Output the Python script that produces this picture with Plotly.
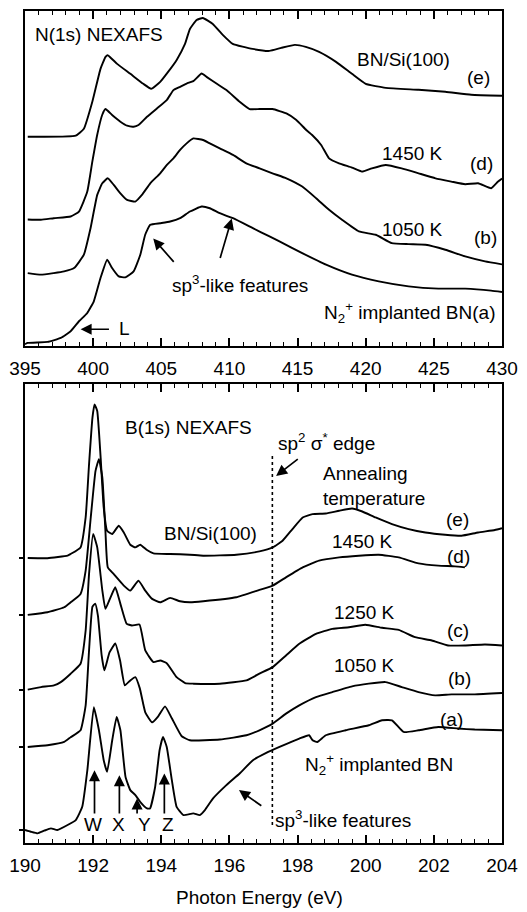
import plotly.graph_objects as go

# ---------------- N(1s) NEXAFS (upper panel) ----------------
# photon energy (eV) and stacked intensity (arb. units, offset included)
n_e_energy = [395.2, 398.72, 399.32, 399.94, 400.54, 400.91, 401.07, 401.76, 402.73, 403.68,
              404.26, 404.92, 405.5, 406.13, 406.74, 407.1, 407.59, 408.05, 408.78, 409.51,
              410.24, 411.7, 412.94, 413.8, 414.8, 415.6, 416.58, 417.82, 418.99, 420.0,
              421.47, 423.88, 425.84, 427.74, 430.0]
n_e_int = [21.0, 21.1, 21.8, 24.5, 27.8, 29.0, 29.17, 28.3, 27.3, 26.3,
           25.8, 26.5, 27.5, 28.7, 30.3, 31.8, 32.7, 32.9, 32.3, 31.2,
           30.3, 29.8, 29.6, 29.9, 30.2, 30.0, 29.5, 28.5, 27.3, 26.3,
           25.9, 25.7, 25.5, 25.2, 25.1]

n_d_energy = [395.2, 396.17, 397.11, 398.35, 398.96, 399.57, 399.94, 400.3, 400.67, 400.91,
              401.39, 402.0, 402.49, 402.97, 403.33, 403.95, 404.68, 405.4, 405.89, 406.38,
              406.86, 407.35, 407.96, 408.32, 409.05, 409.78, 410.75, 411.48, 412.21, 413.16,
              414.18, 414.91, 415.64, 416.07, 416.73, 417.31, 418.04, 418.99, 419.72, 420.45,
              421.47, 422.64, 423.88, 425.12, 426.28, 427.3, 428.25, 429.2, 429.71, 430.0]
n_d_int = [12.7, 12.67, 12.83, 13.0, 13.5, 15.5, 18.5, 21.2, 23.2, 23.77,
           23.17, 22.5, 22.1, 22.0, 22.17, 23.0, 23.83, 24.67, 25.67, 26.0,
           26.33, 26.57, 27.33, 27.0, 26.33, 25.67, 24.5, 23.77, 23.77, 23.77,
           23.33, 22.67, 21.67, 21.17, 20.17, 18.83, 18.33, 17.9, 17.5, 17.83,
           18.17, 17.83, 17.33, 16.83, 16.5, 16.23, 16.33, 15.83, 16.5, 16.8]

n_b_energy = [395.2, 396.17, 397.11, 397.87, 398.6, 399.32, 399.81, 400.3, 400.67, 401.07,
              401.51, 402.0, 402.49, 403.09, 403.58, 404.19, 404.92, 405.41, 405.89, 406.38,
              406.86, 407.35, 408.07, 408.56, 409.29, 410.26, 411.24, 412.21, 413.16, 414.18,
              415.34, 416.36, 417.31, 418.26, 419.5, 420.74, 421.91, 423.15, 424.39, 425.84,
              427.3, 428.76, 430.0]
n_b_int = [7.33, 7.17, 7.33, 7.5, 7.83, 9.17, 11.83, 15.17, 16.33, 16.83,
           16.17, 15.33, 14.67, 14.5, 15.17, 16.33, 17.33, 18.17, 18.83, 19.67,
           20.33, 20.83, 20.67, 20.33, 19.83, 19.17, 18.33, 17.83, 17.33, 16.83,
           16.0, 14.83, 13.67, 12.67, 11.5, 11.17, 10.33, 10.23, 10.17, 9.67,
           9.0, 8.5, 8.2]

n_a_energy = [395.0, 395.2, 396.66, 397.63, 398.35, 398.96, 399.57, 400.05, 400.54, 401.03,
              401.39, 401.88, 402.36, 402.97, 403.46, 403.82, 404.19, 404.92, 405.65, 406.38,
              407.1, 407.96, 408.56, 409.29, 410.26, 411.72, 412.94, 413.67, 415.34, 417.09,
              418.99, 420.96, 423.15, 425.33, 427.3, 429.2, 430.0]
n_a_int = [0.2, 0.33, 0.43, 0.83, 1.5, 2.5, 3.33, 4.5, 6.83, 8.67,
           7.83, 7.0, 6.9, 7.5, 9.17, 11.17, 12.17, 12.33, 12.5, 12.83,
           13.5, 14.0, 13.83, 13.33, 12.83, 11.83, 11.0, 10.5, 9.33, 8.17,
           7.17, 6.5, 6.0, 5.77, 5.77, 5.57, 5.43]

# ---------------- B(1s) NEXAFS (lower panel) ----------------
b_e_energy = [190.08, 190.66, 191.25, 191.34, 191.63, 191.78, 191.88, 191.98, 192.04, 192.12,
              192.22, 192.31, 192.41, 192.56, 192.75, 192.9, 193.09, 193.24, 193.38, 193.58,
              193.77, 194.26, 194.84, 195.23, 196.2, 196.88, 197.27, 197.56, 197.85, 198.15,
              198.44, 198.83, 199.22, 199.6, 199.9, 200.29, 200.77, 201.26, 201.75, 202.33,
              202.81, 203.3, 203.79, 204.0]
b_e_int = [28.57, 28.55, 28.8, 28.97, 29.63, 32.63, 37.97, 42.63, 43.97, 43.3,
           38.63, 33.63, 31.3, 30.97, 31.8, 31.13, 29.9, 29.63, 29.9, 29.37,
           29.03, 28.97, 28.9, 28.8, 28.9, 29.23, 29.63, 30.3, 31.47, 32.63,
           32.97, 33.03, 33.3, 33.53, 33.23, 32.63, 31.97, 31.47, 31.13, 30.9,
           30.8, 31.13, 31.37, 31.55]

b_d_energy = [190.08, 190.66, 191.15, 191.34, 191.63, 191.78, 191.93, 192.07, 192.17, 192.27,
              192.36, 192.43, 192.6, 192.9, 193.09, 193.33, 193.53, 193.73, 193.97, 194.26,
              194.55, 194.84, 195.23, 196.2, 196.88, 197.27, 197.66, 198.15, 198.63, 199.22,
              199.8, 200.38, 200.97, 201.55, 202.13, 202.62, 202.91]
b_d_int = [22.87, 23.13, 23.63, 24.13, 24.97, 27.3, 32.63, 37.3, 38.47, 36.63,
           31.3, 27.63, 26.97, 25.8, 25.3, 26.3, 25.3, 24.47, 24.13, 24.57,
           24.23, 24.13, 24.23, 24.63, 25.37, 25.8, 26.63, 27.63, 28.3, 28.63,
           28.8, 28.9, 28.63, 28.03, 27.8, 27.73, 27.63]

b_c_energy = [190.08, 190.47, 190.85, 191.05, 191.34, 191.63, 191.78, 191.88, 192.0, 192.12,
              192.27, 192.36, 192.51, 192.65, 192.8, 192.98, 193.14, 193.36, 193.53, 193.77,
              193.97, 194.16, 194.45, 194.7, 194.94, 195.72, 196.5, 196.88, 197.27, 197.66,
              198.05, 198.54, 199.02, 199.51, 199.99, 200.48, 200.97, 201.45, 201.94, 202.42,
              202.91, 203.5, 204.0]
b_c_int = [15.37, 15.63, 15.8, 16.13, 16.97, 17.97, 21.3, 26.97, 30.97, 29.63,
           25.3, 23.47, 24.63, 25.63, 23.97, 22.0, 21.8, 21.9, 19.3, 18.13,
           18.3, 18.03, 16.63, 16.03, 15.97, 15.97, 16.3, 16.97, 17.63, 18.8,
           19.97, 20.97, 21.47, 21.63, 21.87, 21.57, 21.37, 20.63, 20.3, 19.8,
           19.8, 19.9, 19.8]

b_b_energy = [190.08, 190.66, 191.15, 191.34, 191.63, 191.78, 191.88, 191.98, 192.06, 192.14,
              192.25, 192.33, 192.48, 192.65, 192.79, 192.93, 193.09, 193.24, 193.37, 193.53,
              193.73, 193.91, 194.11, 194.31, 194.6, 194.84, 195.72, 196.5, 196.88, 197.27,
              197.66, 198.05, 198.54, 199.02, 199.6, 200.09, 200.58, 201.06, 201.55, 202.04,
              202.52, 203.2, 204.0]
b_b_int = [9.63, 9.8, 10.13, 10.6, 11.3, 13.8, 19.3, 23.7, 24.0, 22.8,
           18.8, 17.3, 19.1, 20.0, 18.3, 15.8, 16.3, 16.63, 15.5, 13.1,
           12.1, 12.7, 13.7, 12.5, 10.7, 10.3, 10.37, 10.8, 11.3, 11.97,
           12.97, 13.8, 14.63, 15.13, 15.7, 15.97, 16.13, 15.63, 15.13, 14.8,
           14.9, 14.9, 15.03]

b_a_energy = [190.0, 190.17, 190.37, 190.56, 190.76, 190.95, 191.25, 191.49, 191.68, 191.83,
              192.02, 192.17, 192.31, 192.41, 192.56, 192.69, 192.8, 192.95, 193.09, 193.24,
              193.38, 193.58, 193.67, 193.82, 193.95, 194.05, 194.16, 194.31, 194.45, 194.65,
              194.94, 195.13, 195.28, 195.52, 195.91, 196.3, 196.69, 197.08, 197.47, 198.05,
              198.34, 198.44, 198.58, 198.83, 199.41, 200.09, 200.48, 200.77, 201.11, 201.55,
              202.13, 202.72, 203.2, 204.0]
b_a_int = [1.3, 1.13, 0.97, 1.23, 1.47, 1.3, 1.8, 2.3, 3.63, 7.3,
           13.6, 11.3, 8.3, 7.13, 10.3, 12.63, 11.3, 6.63, 5.3, 4.8,
           4.13, 3.47, 3.47, 5.63, 9.3, 10.63, 9.63, 6.3, 3.63, 2.8,
           2.97, 2.8, 3.3, 4.47, 5.8, 6.97, 8.3, 9.03, 9.63, 10.47,
           10.8, 10.3, 10.13, 10.8, 11.3, 11.8, 12.3, 12.3, 11.13, 11.3,
           11.63, 11.47, 11.37, 11.3]

# stacking baselines marked on the left axis of the B(1s) panel
b_baselines = [1.3, 9.63, 15.37, 22.87, 28.57]
# energy of the sp2 sigma* edge marker
sigma_edge = 197.26

FONT = "Liberation Sans, Arial, Helvetica, sans-serif"
TXT = 19

fig = go.Figure()


def add_curve(x, y, xa, ya):
    fig.add_trace(go.Scatter(
        x=x, y=y, mode="lines", xaxis=xa, yaxis=ya,
        line=dict(color="black", width=1.9, shape="spline", smoothing=0.4),
        showlegend=False, hoverinfo="skip"))


for xs, ys in [(n_e_energy, n_e_int), (n_d_energy, n_d_int),
               (n_b_energy, n_b_int), (n_a_energy, n_a_int)]:
    add_curve(xs, ys, "x2", "y2")

for xs, ys in [(b_e_energy, b_e_int), (b_d_energy, b_d_int), (b_c_energy, b_c_int),
               (b_b_energy, b_b_int), (b_a_energy, b_a_int)]:
    add_curve(xs, ys, "x", "y")

# dotted sp2 sigma* edge line
fig.add_trace(go.Scatter(
    x=[sigma_edge, sigma_edge], y=[38.8, 1.8], mode="lines", xaxis="x", yaxis="y",
    line=dict(color="black", width=1.6, dash="dot"), showlegend=False, hoverinfo="skip"))

annotations = []


def label(text, x, y, panel, xanchor="center", align="center"):
    xr, yr = ("x2", "y2") if panel == "top" else ("x", "y")
    annotations.append(dict(text=text, x=x, y=y, xref=xr, yref=yr, showarrow=False,
                            xanchor=xanchor, yanchor="middle", align=align,
                            font=dict(family=FONT, size=TXT, color="black")))


def arrow(x_head, y_head, x_tail, y_tail, panel):
    xr, yr = ("x2", "y2") if panel == "top" else ("x", "y")
    annotations.append(dict(text="", x=x_head, y=y_head, ax=x_tail, ay=y_tail,
                            xref=xr, yref=yr, axref=xr, ayref=yr, showarrow=True,
                            arrowhead=2, arrowsize=1.3, arrowwidth=1.7,
                            arrowcolor="black", standoff=0, startstandoff=0))


# upper panel text
label("N(1s) NEXAFS", 395.58, 31.2, "top", xanchor="left")
label("BN/Si(100)", 422.78, 28.7, "top")
label("(e)", 428.3, 26.9, "top")
label("1450 K", 423.4, 19.3, "top")
label("(d)", 428.5, 18.3, "top")
label("1050 K", 423.4, 11.7, "top")
label("(b)", 428.8, 10.9, "top")
label("sp<sup>3</sup>-like features", 410.75, 6.2, "top")
label("N<sub>2</sub><sup>+</sup> implanted BN(a)", 429.6, 3.4, "top", xanchor="right")
label("L", 402.3, 1.8, "top")
arrow(404.41, 10.8, 406.01, 8.3, "top")
arrow(410.17, 12.8, 409.29, 8.7, "top")
arrow(399.08, 1.7, 401.27, 1.7, "top")

# lower panel text
label("B(1s) NEXAFS", 192.89, 41.6, "bottom", xanchor="left")
label("sp<sup>2</sup> σ<sup>*</sup> edge", 197.38, 40.2, "bottom", xanchor="left")
label("Annealing<br>temperature", 198.69, 35.75, "bottom", xanchor="left", align="left")
label("(e)", 202.7, 32.4, "bottom")
label("BN/Si(100)", 195.44, 31.05, "bottom")
label("1450 K", 199.92, 30.25, "bottom")
label("(d)", 202.72, 28.75, "bottom")
label("1250 K", 199.95, 23.15, "bottom")
label("(c)", 202.7, 21.3, "bottom")
label("1050 K", 199.95, 17.8, "bottom")
label("(b)", 202.75, 16.5, "bottom")
label("(a)", 202.53, 12.35, "bottom")
label("N<sub>2</sub><sup>+</sup> implanted BN", 200.38, 7.9, "bottom")
label("sp<sup>3</sup>-like features", 197.29, 2.4, "bottom", xanchor="left")
for txt, xe in [("W", 192.0), ("X", 192.73), ("Y", 193.5), ("Z", 194.19)]:
    label(txt, xe, 1.9, "bottom")
arrow(197.37, 36.8, 198.05, 38.6, "bottom")
arrow(196.28, 5.3, 196.98, 3.63, "bottom")
for xe, yh in [(192.04, 7.3), (192.77, 6.8), (193.29, 4.47), (194.09, 6.97)]:
    arrow(xe, yh, xe, 2.8, "bottom")

# x-axis title
annotations.append(dict(text="Photon Energy (eV)", x=0.4906, y=-0.0659, xref="paper",
                        yref="paper", showarrow=False, xanchor="center", yanchor="middle",
                        font=dict(family=FONT, size=TXT, color="black")))

axis_common = dict(showline=True, linecolor="black", linewidth=2.2, showgrid=False,
                   zeroline=False)

fig.update_layout(
    width=527, height=912,
    margin=dict(l=24, r=23, t=9, b=69),
    paper_bgcolor="white", plot_bgcolor="white",
    font=dict(family=FONT, size=TXT, color="black"),
    annotations=annotations,
    xaxis=dict(domain=[0, 1], anchor="y", range=[190, 204], tick0=190, dtick=2,
               ticks="inside", ticklen=8, tickwidth=1.6, tickcolor="black",
               minor=dict(tick0=190, dtick=0.4, ticks="inside", ticklen=4,
                          tickwidth=1.4, tickcolor="black"),
               mirror="allticks", ticklabelstandoff=4,
               tickfont=dict(family=FONT, size=TXT), **axis_common),
    yaxis=dict(domain=[0, 0.55156], anchor="x", range=[0, 46], tickvals=b_baselines,
               ticks="outside", ticklen=4, tickwidth=1.5, tickcolor="black",
               showticklabels=False, mirror=True, **axis_common),
    xaxis2=dict(domain=[0, 1], anchor="y2", range=[395, 430], tick0=395, dtick=5,
                ticks="inside", ticklen=8, tickwidth=1.6, tickcolor="black",
                minor=dict(tick0=395, dtick=1, ticks="inside", ticklen=4,
                           tickwidth=1.4, tickcolor="black"),
                mirror="allticks", ticklabelstandoff=4,
                tickfont=dict(family=FONT, size=TXT), **axis_common),
    yaxis2=dict(domain=[0.59712, 1], anchor="x2", range=[0, 33.6], ticks="",
                showticklabels=False, mirror=True, **axis_common),
)

fig.write_html("out.html")
